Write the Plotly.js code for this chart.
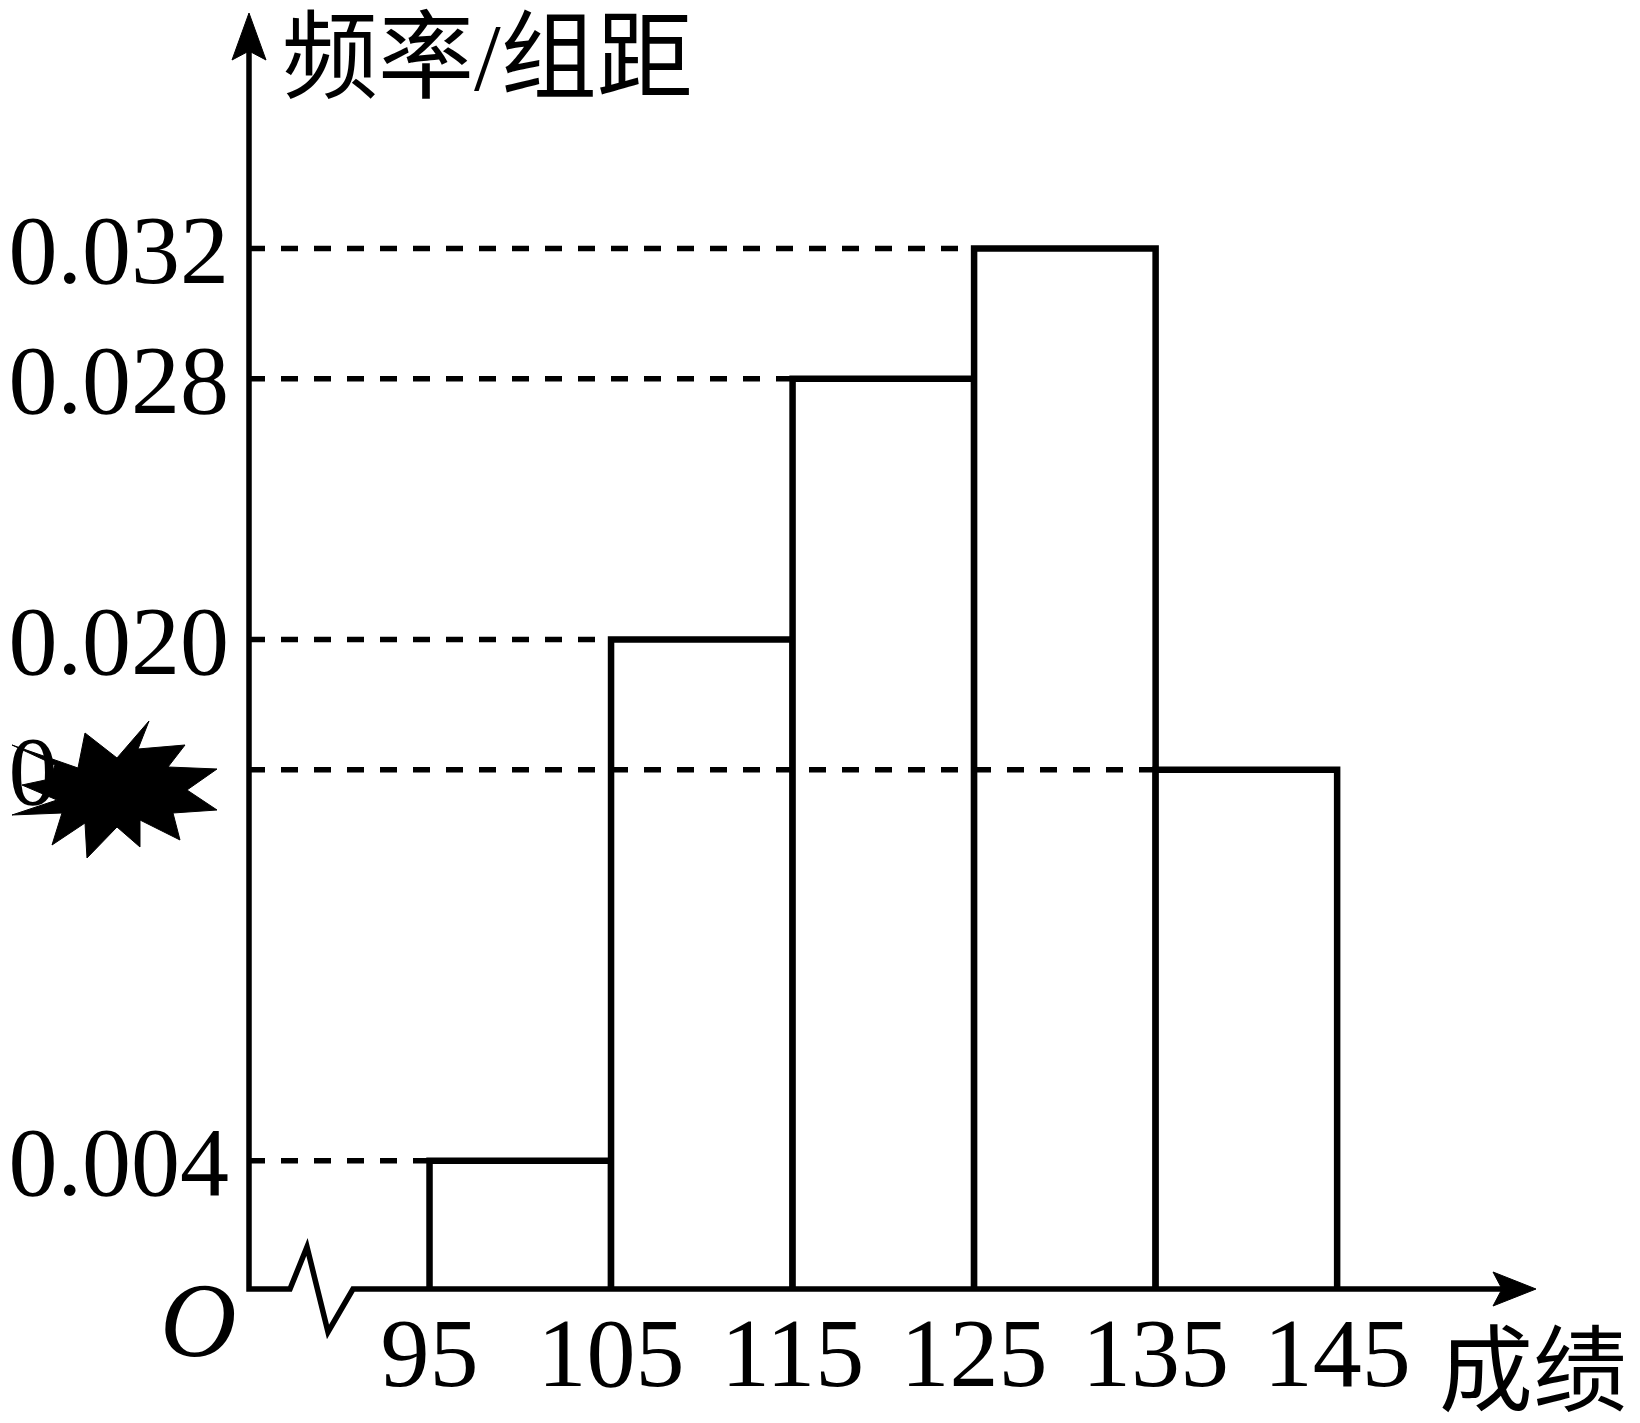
<!DOCTYPE html>
<html>
<head>
<meta charset="utf-8">
<script src="https://cdn.plot.ly/plotly-3.0.1.min.js"></script>
<style>html,body{margin:0;padding:0;background:#fff;}#chart{width:1640px;height:1423px;}</style>
</head>
<body>
<div id="chart"></div>
<script>
// ---- data ----
const binStarts = [95, 105, 115, 125, 135];
const binWidth = 10;
const density = [0.004, 0.020, 0.028, 0.032, 0.016];
const xTickVals = [95, 105, 115, 125, 135, 145];
const xTickText = ['95', '105', '115', '125', '135', '145'];
const yTickVals = [0.004, 0.016, 0.020, 0.028, 0.032];
const yTickText = ['0.004', '0.016', '0.020', '0.028', '0.032'];
const yAxisLabel = '频率/组距';
const xAxisLabel = '成绩';
const originLabel = 'O';

// ---- layout geometry ----
const W = 1640, H = 1423;
const M = {l: 248, r: 105, t: 13, b: 132};
const plotW = W - M.l - M.r, plotH = H - M.t - M.b;
const xRange = [85, 155.9];
const yRange = [0, 0.03923];
const px = p => (p - M.l) / plotW;              // pixel x -> paper
const py = p => (H - M.b - p) / plotH;          // pixel y -> paper
const pathP = pts => pts.map((q, i) => (i ? 'L' : 'M') + px(q[0]).toFixed(5) + ',' + py(q[1]).toFixed(5)).join(' ');

const serif = 'Liberation Serif, Times New Roman, serif';
const cjk = 'Liberation Serif, Noto Sans CJK SC, serif';

const shapes = [];
// dashed reference lines from y-axis to each bar's top-left corner
density.forEach((v, i) => {
  shapes.push({type: 'line', xref: 'x', yref: 'y', x0: xRange[0], x1: binStarts[i], y0: v, y1: v,
    line: {color: '#000', width: 5.5, dash: '17px,16px'}, layer: 'above'});
});
// axes with break zigzag
shapes.push({type: 'path', xref: 'paper', yref: 'paper',
  path: pathP([[249, 45], [249, 1289], [290, 1289], [307, 1247], [328, 1332], [353, 1289], [1505, 1289]]),
  line: {color: '#000', width: 5.5}, fillcolor: 'rgba(0,0,0,0)', layer: 'above'});
// arrow heads
shapes.push({type: 'path', xref: 'paper', yref: 'paper',
  path: pathP([[249, 13], [266, 60], [249, 51], [232, 60]]) + ' Z',
  line: {color: '#000', width: 1}, fillcolor: '#000', layer: 'above'});
shapes.push({type: 'path', xref: 'paper', yref: 'paper',
  path: pathP([[1536, 1289], [1493, 1306], [1502, 1289], [1493, 1272]]) + ' Z',
  line: {color: '#000', width: 1}, fillcolor: '#000', layer: 'above'});
// erased part of the obscured tick label, then the black starburst on top
shapes.push({type: 'rect', xref: 'paper', yref: 'paper',
  x0: px(60), x1: px(235), y0: py(730), y1: py(818),
  line: {width: 0}, fillcolor: '#fff', layer: 'above'});
shapes.push({type: 'path', xref: 'paper', yref: 'paper',
  path: pathP([[12, 745], [78, 768], [85, 733], [117, 758], [149, 721], [138, 749], [185, 745], [168, 767],
    [217, 769], [187, 790], [217, 810], [173, 813], [180, 840], [140, 820], [140, 847], [117, 827],
    [87, 858], [85, 823], [52, 845], [62, 813], [12, 815], [57, 800], [22, 785], [50, 779], [55, 765]]) + ' Z',
  line: {color: '#000', width: 1}, fillcolor: '#000', layer: 'above'});

const annotations = [
  {xref: 'paper', yref: 'paper', x: px(487), y: py(57), xanchor: 'center', yanchor: 'middle',
   text: yAxisLabel, showarrow: false, font: {family: cjk, size: 96, color: '#000'}},
  {xref: 'paper', yref: 'paper', x: px(1533), y: py(1372), xanchor: 'center', yanchor: 'middle',
   text: xAxisLabel, showarrow: false, font: {family: cjk, size: 94, color: '#000'}},
  {xref: 'paper', yref: 'paper', x: px(198), y: py(1320), xanchor: 'center', yanchor: 'middle',
   text: '<i>' + originLabel + '</i>', showarrow: false, font: {family: serif, size: 106, color: '#000'}}
];

const trace = {
  type: 'bar', x: binStarts, y: density, width: binWidth, offset: 0,
  marker: {color: '#fff', line: {color: '#000', width: 6.5}},
  hoverinfo: 'skip'
};

const layout = {
  width: W, height: H, margin: M, showlegend: false,
  paper_bgcolor: '#fff', plot_bgcolor: '#fff',
  xaxis: {range: xRange, showgrid: false, zeroline: false, showline: false, ticks: '',
    tickmode: 'array', tickvals: xTickVals, ticktext: xTickText,
    tickfont: {family: serif, size: 98, color: '#000'}, ticklabelstandoff: -4},
  yaxis: {range: yRange, showgrid: false, zeroline: false, showline: false, ticks: '',
    tickmode: 'array', tickvals: yTickVals, ticktext: yTickText,
    tickfont: {family: serif, size: 98, color: '#000'}, ticklabelstandoff: 18},
  shapes: shapes, annotations: annotations, bargap: 0
};

Plotly.newPlot('chart', [trace], layout, {staticPlot: true, displayModeBar: false});
</script>
</body>
</html>
